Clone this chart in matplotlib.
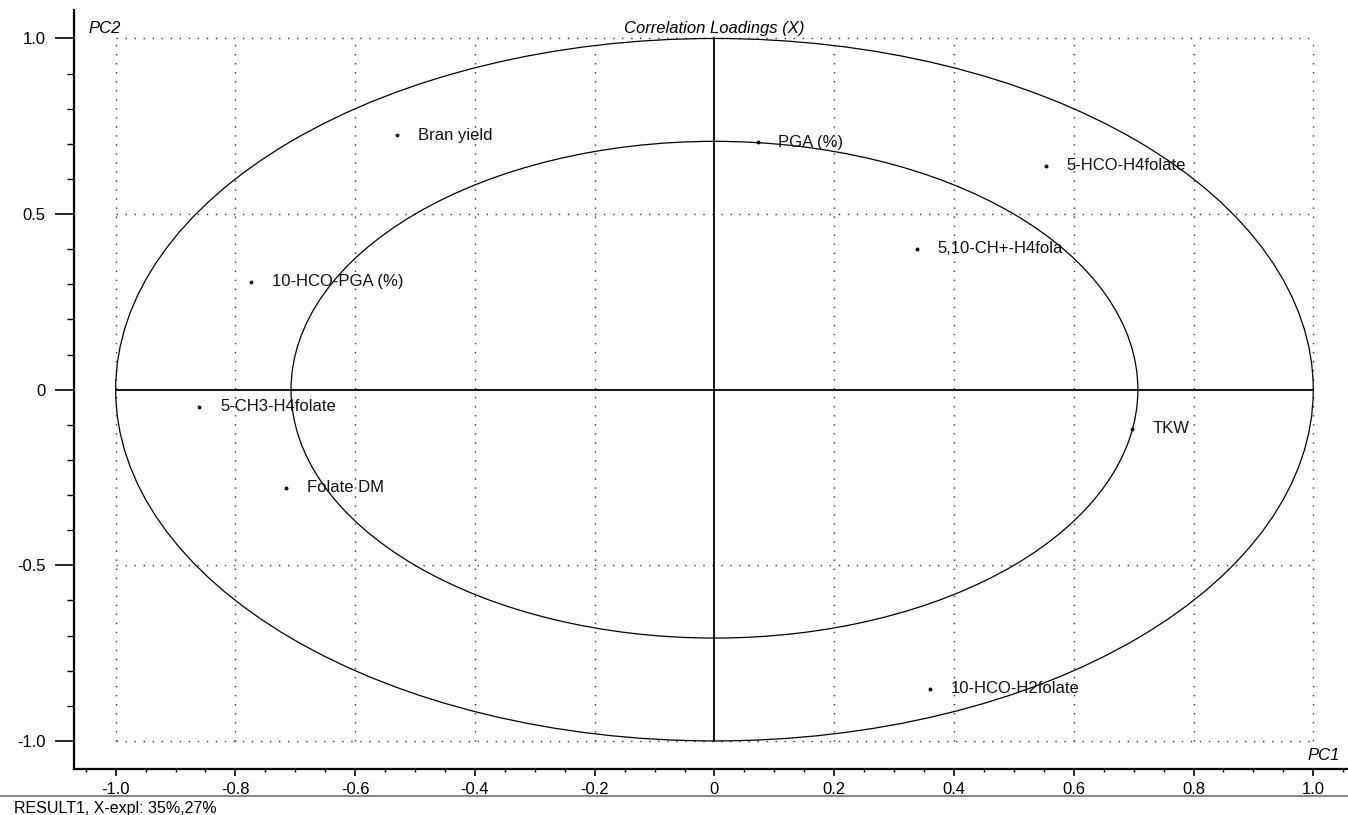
import matplotlib
matplotlib.use("Agg")
import matplotlib.pyplot as plt
import numpy as np
from matplotlib.patches import Ellipse
from matplotlib.lines import Line2D
from matplotlib.ticker import MultipleLocator, FixedLocator

plt.rcParams['font.family'] = ['Liberation Sans', 'DejaVu Sans']
plt.rcParams['axes.unicode_minus'] = False

# correlation loadings, PC1 / PC2
variables = ['Bran yield', 'PGA (%)', '5-HCO-H4folate', '5,10-CH+-H4fola',
             '10-HCO-PGA (%)', '5-CH3-H4folate', 'Folate DM', 'TKW',
             '10-HCO-H2folate']
pc1 = [-0.530, 0.072, 0.553, 0.338, -0.774, -0.860, -0.716, 0.697, 0.360]
pc2 = [0.724, 0.704, 0.638, 0.402, 0.308, -0.048, -0.279, -0.111, -0.852]

x_ticks = [-1.0, -0.8, -0.6, -0.4, -0.2, 0, 0.2, 0.4, 0.6, 0.8, 1.0]
x_labels = ['-1.0', '-0.8', '-0.6', '-0.4', '-0.2', '0', '0.2', '0.4', '0.6', '0.8', '1.0']
y_ticks = [-1.0, -0.5, 0, 0.5, 1.0]
y_labels = ['-1.0', '-0.5', '0', '0.5', '1.0']

fig = plt.figure(figsize=(13.48, 8.15), dpi=100)
ax = fig.add_axes([0.0547, 0.0564, 0.9453, 0.9313])
ax.set_xlim(-1.070, 1.058)
ax.set_ylim(-1.080, 1.081)

# dotted grid, only inside the unit box
dot = (0, (1, 5.5))
for gx in x_ticks:
    if gx != 0:
        ax.plot([gx, gx], [-1, 1], color='#333333', lw=1, linestyle=dot, zorder=1)
for gy in y_ticks:
    if gy != 0:
        ax.plot([-1, 1], [gy, gy], color='#333333', lw=1, linestyle=dot, zorder=1)

# zero axes
ax.plot([0, 0], [-1, 1], color='black', lw=1.3, zorder=2)
ax.plot([-1, 1], [0, 0], color='black', lw=1.3, zorder=2)

# 100% and 50% explained variance circles
for r in (1.0, np.sqrt(0.5)):
    ax.add_patch(Ellipse((0, 0), 2 * r, 2 * r, fill=False, edgecolor='black',
                         lw=0.9, zorder=2))

ax.plot(pc1, pc2, linestyle='none', marker='o', markersize=1.8, color='black', zorder=3)
for name, x, y in zip(variables, pc1, pc2):
    ax.annotate(name, (x, y), xytext=(15, 0), textcoords='offset points',
                ha='left', va='center', fontsize=12, color='#111111', zorder=4)

ax.spines['top'].set_visible(False)
ax.spines['right'].set_visible(False)
ax.spines['left'].set_linewidth(1.6)
ax.spines['bottom'].set_linewidth(1.6)

ax.xaxis.set_major_locator(FixedLocator(x_ticks))
ax.set_xticklabels(x_labels)
ax.xaxis.set_minor_locator(MultipleLocator(0.05))
ax.yaxis.set_major_locator(FixedLocator(y_ticks))
ax.set_yticklabels(y_labels)
ax.yaxis.set_minor_locator(MultipleLocator(0.1))

ax.tick_params(axis='x', which='major', direction='out', length=5, width=1.2,
               pad=4, labelsize=12)
ax.tick_params(axis='x', which='minor', direction='out', length=2.5, width=1.0)
ax.tick_params(axis='y', which='major', direction='out', length=13.5, width=1.2,
               pad=7, labelsize=12)
ax.tick_params(axis='y', which='minor', direction='out', length=5, width=1.0)

ax.text(-1.045, 1.017, 'PC2', style='italic', fontsize=12, ha='left', va='baseline')
ax.text(1.045, -1.02, 'PC1', style='italic', fontsize=12, ha='right', va='top')
ax.text(0, 1.017, 'Correlation Loadings (X)', style='italic', fontsize=12,
        ha='center', va='baseline')

fig.add_artist(Line2D([0, 1], [1 - 796 / 815] * 2, transform=fig.transFigure,
                      color='#888888', lw=1.5))
fig.text(0.0104, 1 - 801 / 815, 'RESULT1, X-expl: 35%,27%', fontsize=11.5,
         ha='left', va='top')

fig.savefig('out.png', dpi=100)
